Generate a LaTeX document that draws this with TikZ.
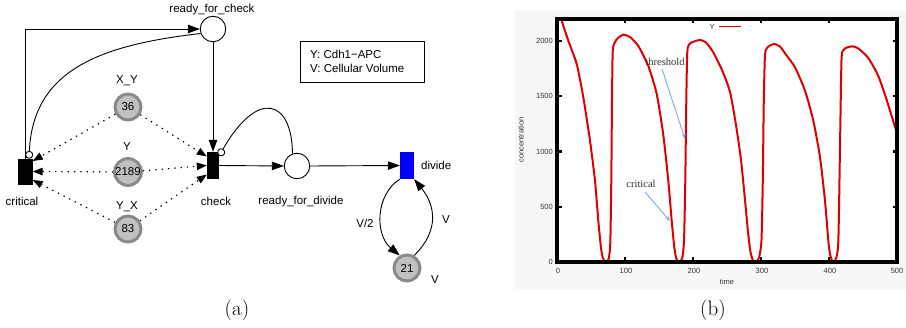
\documentclass[tikz,border=0pt]{standalone}
\usepackage{fontspec}
\newfontfamily\lsans{Liberation Sans}
\newfontfamily\lserif{Liberation Serif}
\usetikzlibrary{arrows.meta,calc}
\definecolor{tokfill}{RGB}{192,192,192}
\definecolor{tokdraw}{RGB}{138,138,138}
\definecolor{curvered}{RGB}{222,0,0}
\definecolor{annblue}{RGB}{135,175,235}
\definecolor{divblue}{RGB}{0,0,255}
\begin{document}
\begin{tikzpicture}[x=1pt,y=-1pt,
  lab/.style={font=\lsans\fontsize{11.5}{12}\selectfont, inner sep=0pt},
  smalltxt/.style={font=\lsans\fontsize{7.5}{8}\selectfont, inner sep=0pt, text=black!80},
  anntxt/.style={font=\lserif\fontsize{10.5}{11}\selectfont, inner sep=0pt, text=black!80},
  captxt/.style={font=\fontsize{21}{22}\selectfont, inner sep=0pt},
  trans/.style={draw=none, fill=black, inner sep=0pt, minimum width=13pt, minimum height=27pt},
  pnplace/.style={circle, draw=black, line width=0.9pt, fill=white, minimum size=25.5pt, inner sep=0pt},
  tok/.style={circle, draw=tokdraw, fill=tokfill, line width=3pt, minimum size=26pt, inner sep=0pt, font=\lsans\fontsize{11.5}{12}\selectfont},
  pnarc/.style={line width=0.9pt, -{Triangle[length=12pt,width=8.5pt]}},
  inh/.style={line width=0.9pt, -{Circle[length=8pt, fill=white]}},
  readarc/.style={line width=1.2pt, dash pattern=on 1.3pt off 5pt, -{Triangle[length=10pt,width=7.5pt]}},
  annarrow/.style={draw=annblue, line width=1pt, -{Stealth[length=5pt,width=4pt]}},
]
\useasboundingbox (0,0) rectangle (906,328);

% ---------------- (a) Petri net ----------------
\node[pnplace] (rfc) at (213,29) {};
\node[lab] (lrfc) at (212,9.3) {ready\_for\_check};

\node[draw=black, line width=0.8pt, minimum width=124pt, minimum height=41pt, inner sep=0pt] (legend) at (362,61.5) {};
\node[lab, anchor=west] (leg1) at (310,54.3) {Y: Cdh1−APC};
\node[lab, anchor=west] (leg2) at (310,68.7) {V: Cellular Volume};

\node[trans, minimum width=15pt, minimum height=26pt] (crit) at (25,172) {};
\node[lab] (lcrit) at (22,201.5) {critical};
\node[trans, minimum width=12pt] (check) at (213,165.5) {};
\node[lab] (lcheck) at (216,201.5) {check};
\node[pnplace] (rfd) at (297,166) {};
\node[lab] (lrfd) at (301,201.5) {ready\_for\_divide};
\node[trans, fill=divblue, minimum width=14pt] (divide) at (407,165.5) {};
\node[lab, anchor=west] (ldivide) at (421,165) {divide};

\node[tok] (xy) at (128,107) {36};
\node[lab] (lxy) at (127,80.3) {X\_Y};
\node[tok] (yy) at (128,172) {2189};
\node[lab] (lyy) at (127,147) {Y};
\node[tok] (yx) at (128,229) {83};
\node[lab] (lyx) at (127,207) {Y\_X};
\node[tok] (vv) at (407,268) {21};
\node[lab] (lvv) at (435,280) {V};

% arcs
\draw[pnarc] (crit.north) |- (rfc.west);
\draw[inh] (rfc.200) .. controls (100,45) and (33,70) .. ($(crit.north)+(4,0)$);
\draw[pnarc] (rfc.south) -- (check.north);
\draw[inh] (rfd.110) .. controls (292,100) and (258,88) .. ($(check.north east)+(0,4)$);
\draw[pnarc] (check.east) -- (rfd.west);
\draw[pnarc] (rfd.east) -- (divide.west);
\draw[pnarc] (divide.south west) .. controls (375,195) and (375,235) .. (vv.120);
\draw[pnarc] (vv.60) .. controls (440,230) and (435,205) .. (divide.south east);
\node[lab] (lv2) at (365,223) {V/2};
\node[lab] (lv1) at (446,220) {V};

% read arcs
\draw[readarc] (xy) -- ($(crit.east)+(0,-11)$);
\draw[readarc] (yy) -- ($(crit.east)+(0,-0.5)$);
\draw[readarc] (yx) -- ($(crit.east)+(0,8)$);
\draw[readarc] (xy) -- ($(check.west)+(0,-9)$);
\draw[readarc] (yy) -- ($(check.west)+(0,0)$);
\draw[readarc] (yx) -- ($(check.west)+(0,9)$);

\node[captxt] (capa) at (237,310) {(a)};

% ---------------- (b) plot ----------------
\fill[black!3] (515,10) rectangle (906,289);
\fill[white] (557,19) rectangle (897,262);
\begin{scope}
\clip (557,19) rectangle (897,262);
\draw[curvered, line width=2pt, line join=round] plot[smooth, tension=0.4] coordinates {
(560,13) (561.5,20) (568.3,40.7) (576.7,64) (583.3,97.3) (590,140.7) (595,180.7) (598.3,220.7) (601,248) (603,258.5) (605.5,261.5) (608.5,259.5) (610.3,243) (611.3,180) (612,100) (612.7,52) (614.5,43) (618,38) (623.3,34.7)
(630,37) (638.3,46) (648.3,66) (656.7,94) (663.3,135) (668.3,180.7) (671.7,220.7) (674.3,247.3) (676.3,258.5) (679,261.5) (682,259) (684,241) (685.3,180) (686.3,100) (687.3,52) (689.5,44) (694,41.5) (700,40)
(706,42.5) (713,52) (722,70) (730,92) (736,125) (741,160) (745,200) (748,232) (750.5,252) (753,260.5) (756,261.5) (759,258) (761.5,240) (762.8,180) (763.8,100) (765,55) (767,48) (770,45.5) (774.3,44)
(780,46.5) (786.7,55.7) (795,67.3) (805,90.7) (813.3,120.7) (820,157.3) (825,200.7) (828.3,240.7) (830,254) (832.5,261.5) (835.5,260) (838.3,242) (840,147) (841.5,60) (843.5,50) (847,47.5) (852.7,46.3)
(858.3,48.5) (868.3,58) (878.3,76) (886.7,100) (895,127) (900,143)};
\end{scope}
\draw[line width=3.5pt] (557,19) rectangle (897,262);
\foreach \xx in {625,693,761,829} {
  \draw[line width=2.2pt] (\xx,19) -- (\xx,23.5);
  \draw[line width=2.2pt] (\xx,262) -- (\xx,257.5);
}
\foreach \yy in {41,96.2,151.5,206.7} {
  \draw[line width=2.2pt] (557,\yy) -- (561.5,\yy);
  \draw[line width=2.2pt] (897,\yy) -- (892.5,\yy);
}
\node[smalltxt, anchor=east] (y0) at (553,262) {0};
\node[smalltxt, anchor=east] (y1) at (553,206.7) {500};
\node[smalltxt, anchor=east] (y2) at (553,151.5) {1000};
\node[smalltxt, anchor=east] (y3) at (553,96.2) {1500};
\node[smalltxt, anchor=east] (y4) at (553,41) {2000};
\node[smalltxt] (x0) at (558,270.5) {0};
\node[smalltxt] (x1) at (626,270.5) {100};
\node[smalltxt] (x2) at (694,270.5) {200};
\node[smalltxt] (x3) at (762,270.5) {300};
\node[smalltxt] (x4) at (830,270.5) {400};
\node[smalltxt] (x5) at (897,270.5) {500};
\node[smalltxt] (xl) at (727,282) {time};
\node[smalltxt, rotate=90] (yl) at (521,140) {concentration};
\node[smalltxt] (leglab) at (712,26.5) {Y};
\coordinate (legs) at (719,26.5);
\coordinate (lege) at (741,26.5);
\draw[curvered, line width=1.6pt] (legs) -- (lege);

\node[anntxt] (thr) at (665,61.5) {threshold};
\coordinate (thrtip) at (685,139);
\draw[annarrow] (662,69) -- (thrtip);
\node[anntxt] (crt) at (641,184) {critical};
\coordinate (crttip) at (670,221);
\draw[annarrow] (645,192) -- (crttip);

\node[captxt] (capb) at (713,310) {(b)};
\end{tikzpicture}
\end{document}
